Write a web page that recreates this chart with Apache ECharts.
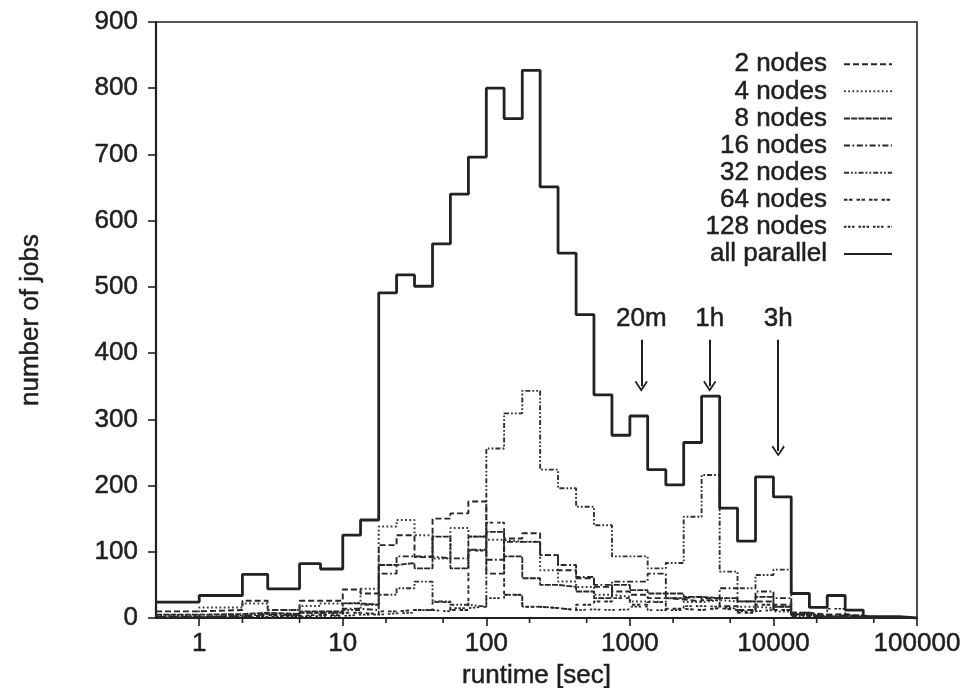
<!DOCTYPE html>
<html>
<head>
<meta charset="utf-8">
<script src="https://cdn.jsdelivr.net/npm/echarts@6/dist/echarts.min.js"></script>
<style>
  html, body { margin: 0; padding: 0; background: #ffffff; }
  #chart { width: 966px; height: 688px; }
</style>
</head>
<body>
<div id="chart"></div>
<script>
// Histogram bin edges (seconds): coarse integer bins below 10 s, then 8 bins per decade.
const binEdges = [0.5, 1, 2, 3, 5, 7, 10,
  13.3, 17.8, 23.7, 31.6, 42.2, 56.2, 75, 100,
  133, 178, 237, 316, 422, 562, 750, 1000,
  1330, 1780, 2370, 3160, 4220, 5620, 7500, 10000,
  13300, 17800, 23700, 31600, 42200, 56200, 75000, 100000];

// Job counts per bin, one array per partition size.
const nodes2 = [10, 12, 26, 12, 26, 26, 43, 37, 110, 125, 92, 150, 158, 176, 67, 120, 128, 95, 72, 60, 47, 40, 35, 30, 28, 25, 30, 18, 12, 25, 20, 8, 5, 6, 3, 1, 1, 0];
const nodes4 = [4, 16, 22, 12, 18, 22, 23, 44, 138, 148, 125, 90, 136, 123, 118, 115, 115, 72, 55, 47, 35, 32, 25, 24, 30, 24, 27, 25, 17, 15, 10, 6, 3, 4, 2, 1, 0, 0];
const nodes8 = [5, 6, 8, 6, 10, 10, 22, 20, 80, 83, 75, 123, 75, 123, 130, 93, 60, 50, 47, 40, 30, 50, 42, 37, 37, 32, 30, 30, 25, 32, 17, 5, 2, 3, 1, 0, 0, 0];
const nodes16 = [2, 3, 6, 4, 8, 8, 14, 12, 67, 93, 93, 90, 90, 103, 88, 115, 115, 95, 80, 62, 50, 55, 55, 67, 30, 32, 27, 45, 25, 40, 30, 8, 3, 4, 2, 0, 0, 0];
const nodes32 = [1, 4, 6, 4, 8, 8, 12, 20, 35, 45, 55, 25, 20, 17, 256, 309, 343, 224, 196, 168, 140, 93, 93, 75, 83, 153, 216, 70, 45, 65, 73, 3, 1, 1, 0, 0, 0, 0];
const nodes64 = [2, 2, 4, 3, 5, 4, 8, 6, 10, 12, 12, 24, 12, 102, 144, 35, 17, 15, 12, 20, 25, 30, 20, 24, 14, 12, 15, 12, 8, 20, 12, 4, 2, 2, 1, 0, 0, 0];
const nodes128 = [1, 1, 2, 2, 3, 3, 5, 5, 7, 8, 12, 10, 15, 17, 30, 35, 17, 15, 12, 13, 12, 13, 17, 12, 12, 18, 17, 14, 10, 12, 17, 6, 3, 14, 4, 1, 0, 0];
const allParallel = [24, 34, 66, 44, 82, 74, 125, 148, 491, 518, 501, 565, 640, 696, 800, 754, 827, 651, 551, 458, 337, 276, 305, 224, 201, 265, 335, 166, 116, 213, 183, 37, 16, 34, 12, 2, 2, 0];

const seriesNames = ['2 nodes', '4 nodes', '8 nodes', '16 nodes', '32 nodes', '64 nodes', '128 nodes', 'all parallel'];

// Queue time limits marked with arrows (seconds), arrow top / tip in job counts.
const limitTimes = [1200, 3600, 10800];
const limitLabels = ['20m', '1h', '3h'];
const arrowTop = [420, 420, 420];
const arrowTip = [350, 350, 252];

// Axis ticks
const xMajorTicks = [1, 10, 100, 1000, 10000, 100000];
const xMinorTicks = [2, 5, 20, 50, 200, 500, 2000, 5000, 20000, 50000];

const FONT = "'Liberation Sans', Arial, Helvetica, sans-serif";
const INK = '#1f1f1f';
const FS = 26;
// Slightly heavier glyphs, like the printed original.
const TEXT_WEIGHT = { textBorderColor: INK, textBorderWidth: 0.5 };

// Turn per-bin counts into step points: [left edge, count], closed at the last right edge.
function stepPoints(counts) {
  const pts = counts.map((c, i) => [binEdges[i], c]);
  pts.push([binEdges[binEdges.length - 1], counts[counts.length - 1]]);
  return pts;
}

const styles = [
  { color: '#262626', width: 1.9, type: [6, 3] },
  { color: '#3a3a3a', width: 2.0, type: [1.8, 2.4] },
  { color: '#262626', width: 1.8, type: [6, 1.2] },
  { color: '#262626', width: 1.9, type: [6, 2.5, 1.8, 2.5] },
  { color: '#303030', width: 1.9, type: [5, 2, 1.8, 2, 1.8, 2] },
  { color: '#262626', width: 1.9, type: [3.5, 1.5, 3.5, 4] },
  { color: '#262626', width: 1.7, type: [2.5, 1.5, 2.5, 1.5, 2.5, 4] },
  { color: '#222222', width: 2.8, type: 'solid' }
];
const dataSets = [nodes2, nodes4, nodes8, nodes16, nodes32, nodes64, nodes128, allParallel];

const chevron = 'path://M0,0 L7,9 L5.6,10.2 L0,3 L-5.6,10.2 L-7,9 Z';

const lineSeries = dataSets.map((counts, k) => {
  const s = {
    name: seriesNames[k],
    type: 'line',
    step: 'end',
    symbol: 'none',
    data: stepPoints(counts),
    lineStyle: styles[k],
    itemStyle: { color: styles[k].color },
    z: k === 7 ? 10 : 3,
    silent: true,
    animation: false
  };
  if (k === 7) {
    s.markLine = {
      silent: true,
      symbol: ['none', chevron],
      symbolSize: [13, 11],
      lineStyle: { color: INK, width: 2, type: 'solid' },
      label: Object.assign({
        show: true,
        position: 'start',
        distance: 8,
        fontFamily: FONT,
        fontSize: FS,
        color: INK,
        formatter: p => limitLabels[p.dataIndex]
      }, TEXT_WEIGHT),
      emphasis: { disabled: true },
      data: limitTimes.map((t, i) => [
        { coord: [t, arrowTop[i]] },
        { coord: [t, arrowTip[i]] }
      ])
    };
  }
  return s;
});

// Short minor tick marks under the x axis at 2 and 5 of each decade.
const minorTickSeries = {
  type: 'custom',
  coordinateSystem: 'cartesian2d',
  silent: true,
  clip: false,
  animation: false,
  data: xMinorTicks.map(v => [v, 0]),
  renderItem: (params, api) => {
    const p = api.coord([api.value(0), 0]);
    return {
      type: 'line',
      shape: { x1: p[0], y1: p[1], x2: p[0], y2: p[1] + 5 },
      style: { stroke: INK, lineWidth: 1.6 }
    };
  }
};

const textStyle = Object.assign({ fontFamily: FONT, fontSize: FS, color: INK }, TEXT_WEIGHT);

const chart = echarts.init(document.getElementById('chart'), null, { renderer: 'canvas' });
chart.setOption({
  backgroundColor: '#ffffff',
  animation: false,
  textStyle: { fontFamily: FONT },
  grid: {
    left: 156, right: 49, top: 22, bottom: 70,
    show: true, borderColor: INK, borderWidth: 1.6,
    containLabel: false, outerBoundsMode: 'none'
  },
  legend: {
    data: seriesNames,
    orient: 'vertical',
    align: 'right',
    right: 68,
    top: 46,
    itemWidth: 48,
    itemHeight: 14,
    itemGap: 0.6,
    selectedMode: false,
    itemStyle: { opacity: 0 },
    textStyle: Object.assign({ lineHeight: 25, padding: [0, 12, 0, 0] }, textStyle)
  },
  xAxis: {
    type: 'log',
    logBase: 10,
    min: 0.5,
    max: 100000,
    name: 'runtime [sec]',
    nameLocation: 'middle',
    nameGap: 40,
    nameTextStyle: textStyle,
    axisLine: { lineStyle: { color: INK, width: 2.2 } },
    axisTick: { show: true, inside: false, length: 8, lineStyle: { color: INK, width: 1.6 } },
    splitLine: { show: false },
    minorTick: { show: false },
    axisLabel: Object.assign({
      showMinLabel: false,
      margin: 13,
      formatter: v => {
        const r = Math.round(v);
        return xMajorTicks.indexOf(r) >= 0 ? String(r) : '';
      }
    }, textStyle)
  },
  yAxis: {
    type: 'value',
    min: 0,
    max: 900,
    interval: 100,
    name: 'number of jobs',
    nameLocation: 'middle',
    nameGap: 112,
    nameRotate: 90,
    nameTextStyle: textStyle,
    axisLine: { show: true, lineStyle: { color: INK, width: 2.2 } },
    axisTick: { show: true, inside: false, length: 8, lineStyle: { color: INK, width: 1.6 } },
    splitLine: { show: false },
    axisLabel: Object.assign({ margin: 18 }, textStyle)
  },
  series: lineSeries.concat([minorTickSeries])
});
</script>
</body>
</html>
